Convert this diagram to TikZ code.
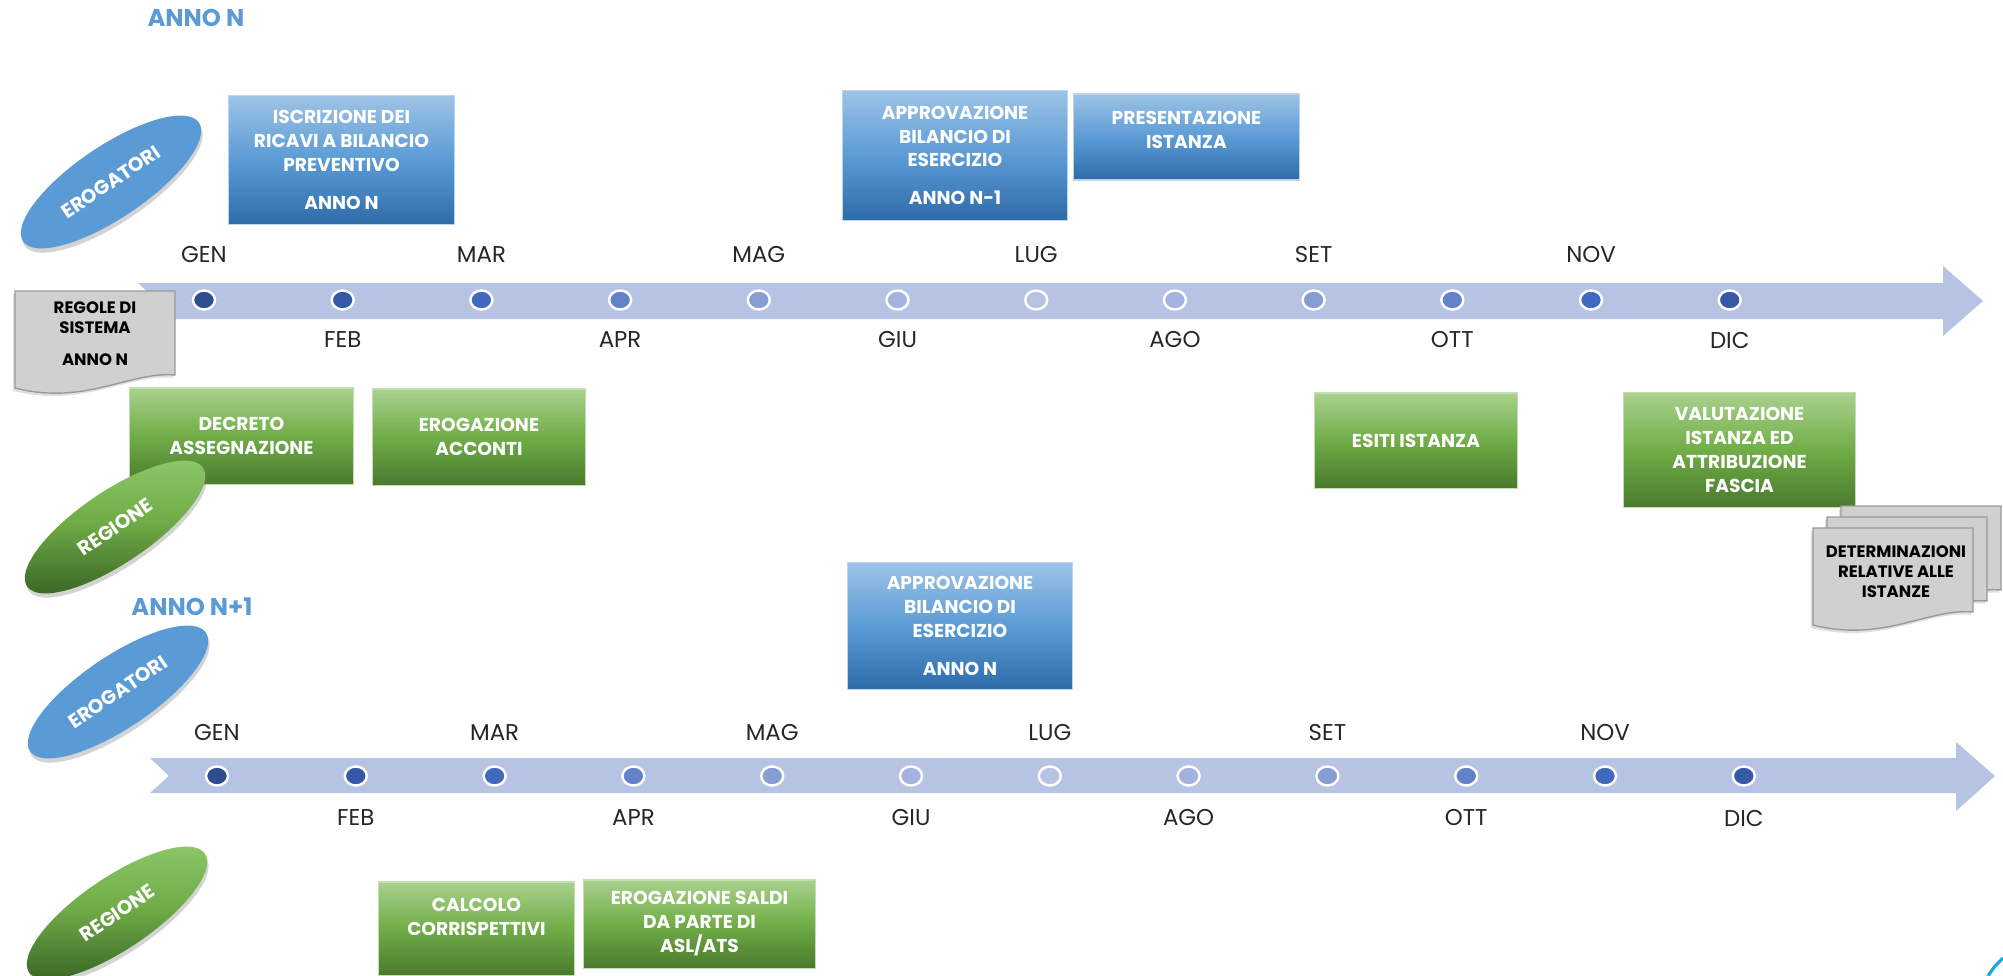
\documentclass[tikz,border=0pt]{standalone}
\usepackage{fontspec}
\setmainfont{Poppins}
\usetikzlibrary{shapes.geometric,shadows}

\definecolor{bandblue}{HTML}{B6C3E3}
\definecolor{dotnavy}{HTML}{2E4D8E}
\definecolor{dotdeep}{HTML}{3559A6}
\definecolor{dotroyal}{HTML}{4169BF}
\definecolor{dotmid}{HTML}{6382C9}
\definecolor{dotsoft}{HTML}{889CD4}
\definecolor{dotpale}{HTML}{A3B2DE}
\definecolor{bluetop}{HTML}{9DC3E6}
\definecolor{bluemid}{HTML}{5B9BD5}
\definecolor{bluebot}{HTML}{2E6CA9}
\definecolor{greentop}{HTML}{A9D18E}
\definecolor{greenmid}{HTML}{70AD47}
\definecolor{greenbot}{HTML}{4A7A2E}
\definecolor{regtop}{HTML}{8FC96C}
\definecolor{regbot}{HTML}{3E6C28}
\definecolor{docgray}{HTML}{D0D0D0}
\definecolor{docedge}{HTML}{9A9A9A}
\definecolor{annoblue}{HTML}{5B9BD5}
\definecolor{cornercyan}{HTML}{1FA5DE}

\newcommand\boxfont{\fontsize{5.3}{6.8}\selectfont\bfseries}

\tikzset{
  month/.style={font=\fontsize{6.5}{7}\selectfont, text=black!85, inner sep=0pt},
  dot/.style={ellipse, draw=white, line width=0.7pt, minimum width=0.22cm, minimum height=0.19cm, inner sep=0pt},
  bluebox/.style={rectangle, draw=bluetop!70!white, line width=0.3pt, top color=bluetop, bottom color=bluebot, middle color=bluemid, text=white, font=\boxfont, align=center, inner sep=0pt},
  greenbox/.style={rectangle, draw=greentop!70!white, line width=0.3pt, top color=greentop, bottom color=greenbot, middle color=greenmid, text=white, font=\boxfont, align=center, inner sep=0pt},
  actor/.style={ellipse, rotate=34, minimum width=2.12cm, minimum height=0.72cm, inner sep=0pt, text=white, font=\fontsize{5.6}{7}\selectfont\bfseries, drop shadow={shadow xshift=0.4pt, shadow yshift=-1.2pt, opacity=0.35}},
  erog/.style={actor, fill=bluemid},
  regio/.style={actor, top color=regtop, bottom color=regbot, middle color=greenmid},
  year/.style={font=\fontsize{6.9}{8}\selectfont\bfseries, text=annoblue, inner sep=0pt},
  doctext/.style={font=\fontsize{4.7}{5.7}\selectfont\bfseries, align=center, inner sep=0pt},
  gdoc/.pic={
    \draw[fill=docgray, draw=docedge, line width=0.4pt, drop shadow={shadow xshift=-0.6pt, shadow yshift=-0.8pt, opacity=0.25}]
      (0,0) -- (160,0) -- (160,84) .. controls (115,80) and (70,115) .. (0,97) -- cycle;
  }
}

\begin{document}
\begin{tikzpicture}[x=0.01cm, y=-0.01cm]
  \useasboundingbox (0,0) rectangle (2003,976);

  % timelines
  \fill[bandblue] (138,283) -- (1943,283) -- (1943,266) -- (1983,301) -- (1943,336) -- (1943,319) -- (138,319) -- (157,301) -- cycle;
  \fill[bandblue] (150,758) -- (1956,758) -- (1956,742) -- (1995,776) -- (1956,811) -- (1956,793) -- (150,793) -- (169,776) -- cycle;

  \foreach \c [count=\i from 0] in {dotnavy,dotdeep,dotroyal,dotmid,dotsoft,dotpale,bandblue,dotpale,dotsoft,dotmid,dotroyal,dotdeep} {
    \node[dot, fill=\c] (ta\i) at ({204+138.7*\i},300) {};
    \node[dot, fill=\c] (tb\i) at ({217+138.8*\i},776) {};
  }
  \foreach \m [count=\i from 0] in {GEN,MAR,MAG,LUG,SET,NOV} {
    \node[month] (tam\i) at ({204+277.4*\i},255) {\m};
    \node[month] (tbm\i) at ({217+277.6*\i},733) {\m};
  }
  \foreach \m [count=\i from 0] in {FEB,APR,GIU,AGO,OTT,DIC} {
    \node[month] (tan\i) at ({342.7+277.4*\i},340) {\m};
    \node[month] (tbn\i) at ({355.8+277.6*\i},818) {\m};
  }

  % anno N
  \node[year] (annoN) at (196,18) {ANNO N};
  \node[bluebox, minimum width=2.25cm, minimum height=1.28cm] (iscr) at (341.5,160)
    {ISCRIZIONE DEI\\RICAVI A BILANCIO\\PREVENTIVO\\[4pt]ANNO N};
  \node[bluebox, minimum width=2.24cm, minimum height=1.29cm] (appr) at (955,155.5)
    {APPROVAZIONE\\BILANCIO DI\\ESERCIZIO\\[4pt]ANNO N-1};
  \node[bluebox, minimum width=2.25cm, minimum height=0.86cm] (pres) at (1186.5,137)
    {PRESENTAZIONE\\ISTANZA\\[-3pt]~};
  \node[greenbox, minimum width=2.23cm, minimum height=0.96cm] (decr) at (241.5,436)
    {DECRETO\\ASSEGNAZIONE};
  \node[greenbox, minimum width=2.12cm, minimum height=0.96cm] (acco) at (479,437)
    {EROGAZIONE\\ACCONTI};
  \node[greenbox, minimum width=2.02cm, minimum height=0.95cm] (esiti) at (1416,440.5)
    {ESITI ISTANZA};
  \node[greenbox, minimum width=2.31cm, minimum height=1.14cm] (valu) at (1739.5,450)
    {VALUTAZIONE\\ISTANZA ED\\ATTRIBUZIONE\\FASCIA};

  \pic at (15,291) {gdoc};
  \node[doctext] (regole) at (95,334) {REGOLE DI\\SISTEMA\\[3.4pt]ANNO N};
  \foreach \o in {2,1,0} {
    \pic at ({1813+14*\o},{528-11*\o}) {gdoc};
  }
  \node[doctext] (determ) at (1896,572) {DETERMINAZIONI\\RELATIVE ALLE\\ISTANZE};

  \node[erog] (erogN) at (111,182) {EROGATORI};
  \node[regio] (regN) at (115,527) {REGIONE};

  % anno N+1
  \node[year] (annoN1) at (192,607) {ANNO N+1};
  \node[bluebox, minimum width=2.24cm, minimum height=1.26cm] (apprN) at (960,626)
    {APPROVAZIONE\\BILANCIO DI\\ESERCIZIO\\[4pt]ANNO N};
  \node[greenbox, minimum width=1.95cm, minimum height=0.93cm] (calc) at (476.5,928.5)
    {CALCOLO\\CORRISPETTIVI\\~};
  \node[greenbox, minimum width=2.31cm, minimum height=0.88cm] (saldi) at (699.5,924)
    {EROGAZIONE SALDI\\DA PARTE DI\\ASL/ATS};

  \node[erog] (erogN1) at (118,692) {EROGATORI};
  \node[regio] (regN1) at (117,913) {REGIONE};

  \draw[cornercyan, line width=0.9pt] (1988,976) .. controls (1994,967) .. (2003,958);
\end{tikzpicture}
\end{document}
